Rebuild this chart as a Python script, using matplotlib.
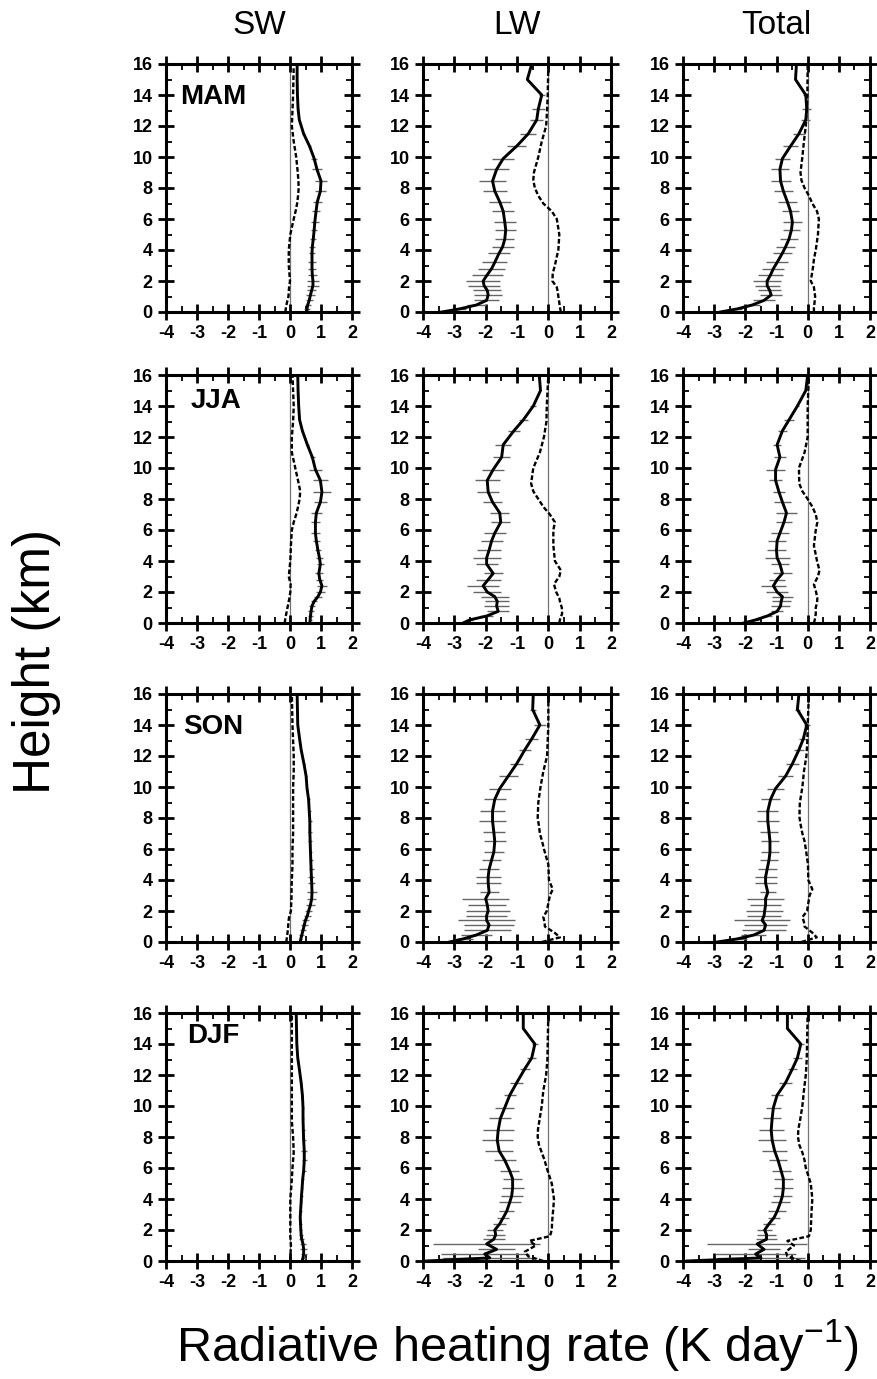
import numpy as np
import matplotlib
matplotlib.use('Agg')
import matplotlib.pyplot as plt
from matplotlib.ticker import MultipleLocator

plt.rcParams['font.family'] = ['Liberation Sans', 'DejaVu Sans']
plt.rcParams['mathtext.fontset'] = 'custom'
plt.rcParams['mathtext.rm'] = 'Liberation Sans'
plt.rcParams['axes.unicode_minus'] = False

seasons = ['MAM', 'JJA', 'SON', 'DJF']
columns = ['SW', 'LW', 'Total']

# heights (km) of the mean profiles / error bars, and of the dashed profiles
height = [0, 0.2, 0.45, 0.75, 1.1, 1.4, 1.7, 2.0, 2.4, 2.8, 3.2, 3.8, 4.2, 4.7, 5.3,
          5.8, 6.5, 7.1, 7.8, 8.45, 9.2, 9.9, 10.7, 11.5, 12.4, 13.1, 14.0, 15.0, 16.0]
height_dash = [0, 0.3, 0.6, 1.0, 1.3, 1.6, 2.0, 2.5, 3.0, 3.4, 4.0, 5.0, 6.0, 6.5,
               7.0, 7.5, 8.0, 8.5, 9.0, 10.0, 11.0, 12.0, 13.0, 14.0, 16.0]

# ---- MAM ----
sw_mam = [0.55, 0.55, 0.57, 0.62, 0.66, 0.7, 0.74, 0.74, 0.72, 0.71, 0.71, 0.71, 0.72, 0.75, 0.78,
          0.8, 0.84, 0.88, 0.98, 1.0, 0.87, 0.78, 0.63, 0.44, 0.3, 0.26, 0.24, 0.23, 0.23]
sw_mam_err = [0, 0.1, 0.1, 0.12, 0.15, 0.15, 0.18, 0.18, 0.15, 0.12, 0.12, 0.1, 0.1, 0.1, 0.1,
              0.12, 0.12, 0.15, 0.18, 0.2, 0.15, 0.1, 0.06, 0.05, 0.03, 0.02, 0, 0, 0]
sw_mam_dash = [-0.15, -0.13, -0.1, -0.05, -0.04, -0.03, 0.0, -0.02, -0.04, -0.04, -0.04, 0.01, 0.12,
               0.18, 0.23, 0.26, 0.28, 0.27, 0.25, 0.2, 0.12, 0.06, 0.08, 0.1, 0.12]

lw_mam = [-3.4, -2.83, -2.3, -1.97, -1.92, -1.95, -2.05, -2.08, -1.95, -1.81, -1.71, -1.57, -1.46, -1.39, -1.36,
          -1.39, -1.44, -1.55, -1.71, -1.78, -1.65, -1.44, -1.01, -0.64, -0.37, -0.32, -0.21, -0.67, -0.53]
lw_mam_err = [0, 0.2, 0.3, 0.4, 0.45, 0.45, 0.5, 0.55, 0.5, 0.42, 0.4, 0.35, 0.35, 0.3, 0.33,
              0.35, 0.35, 0.35, 0.38, 0.43, 0.4, 0.35, 0.3, 0.25, 0.2, 0.2, 0.1, 0, 0]
lw_mam_dash = [0.4, 0.37, 0.35, 0.32, 0.3, 0.27, 0.13, 0.14, 0.21, 0.25, 0.32, 0.35, 0.27, 0.11,
               -0.16, -0.32, -0.43, -0.48, -0.46, -0.32, -0.21, -0.07, -0.04, -0.02, 0.0]

tot_mam = [-2.8, -2.26, -1.78, -1.4, -1.17, -1.22, -1.3, -1.3, -1.19, -1.1, -0.98, -0.81, -0.71, -0.6, -0.52,
           -0.49, -0.55, -0.65, -0.78, -0.87, -0.89, -0.81, -0.55, -0.28, -0.06, -0.03, -0.06, -0.39, -0.36]
tot_mam_err = [0, 0.15, 0.25, 0.35, 0.35, 0.38, 0.4, 0.45, 0.4, 0.35, 0.35, 0.3, 0.3, 0.28, 0.28,
               0.3, 0.28, 0.3, 0.3, 0.32, 0.3, 0.25, 0.25, 0.2, 0.15, 0.15, 0.08, 0, 0]
tot_mam_dash = [0.2, 0.2, 0.22, 0.24, 0.22, 0.2, 0.1, 0.14, 0.18, 0.2, 0.26, 0.33, 0.36, 0.3,
                0.15, 0.04, -0.1, -0.2, -0.23, -0.17, -0.12, -0.06, -0.03, -0.01, 0.0]

# ---- JJA ----
sw_jja = [0.64, 0.65, 0.66, 0.68, 0.71, 0.78, 0.9, 0.98, 1.03, 0.96, 0.93, 0.98, 0.95, 0.9, 0.85,
          0.82, 0.82, 0.85, 0.98, 1.03, 0.98, 0.82, 0.72, 0.56, 0.4, 0.31, 0.28, 0.26, 0.25]
sw_jja_err = [0, 0.05, 0.08, 0.1, 0.1, 0.1, 0.12, 0.15, 0.15, 0.12, 0.12, 0.12, 0.1, 0.1, 0.12,
              0.15, 0.15, 0.18, 0.2, 0.3, 0.25, 0.2, 0.08, 0.05, 0.03, 0.02, 0, 0, 0]
sw_jja_dash = [-0.17, -0.15, -0.12, -0.08, -0.05, -0.02, 0.01, 0.02, -0.04, -0.02, 0.01, 0.03, 0.06,
               0.12, 0.2, 0.26, 0.31, 0.33, 0.28, 0.17, 0.06, 0.06, 0.1, 0.12, 0.08]

lw_jja = [-2.72, -2.51, -1.97, -1.6, -1.65, -1.63, -1.71, -1.95, -2.08, -1.92, -1.76, -1.97, -1.97, -1.89, -1.81,
          -1.71, -1.52, -1.55, -1.78, -1.92, -1.95, -1.76, -1.49, -1.44, -1.1, -0.8, -0.48, -0.25, -0.29]
lw_jja_err = [0, 0.1, 0.2, 0.35, 0.4, 0.38, 0.45, 0.45, 0.5, 0.4, 0.3, 0.35, 0.45, 0.38, 0.35,
              0.35, 0.3, 0.3, 0.3, 0.35, 0.4, 0.35, 0.28, 0.25, 0.2, 0.15, 0.1, 0, 0]
lw_jja_dash = [0.35, 0.38, 0.44, 0.43, 0.38, 0.35, 0.25, 0.18, 0.35, 0.4, 0.21, 0.16, 0.16, 0.21,
               0.05, -0.16, -0.32, -0.48, -0.55, -0.48, -0.27, -0.14, -0.06, -0.05, 0.0]

tot_jja = [-2.05, -1.67, -1.3, -0.98, -0.87, -0.85, -0.81, -0.98, -1.1, -0.98, -0.81, -0.89, -0.98, -1.0, -0.98,
           -0.89, -0.76, -0.68, -0.81, -0.92, -1.03, -1.03, -0.89, -0.98, -0.81, -0.6, -0.33, -0.06, 0.0]
tot_jja_err = [0, 0.1, 0.15, 0.2, 0.3, 0.3, 0.35, 0.35, 0.4, 0.25, 0.3, 0.3, 0.4, 0.3, 0.3,
               0.3, 0.25, 0.35, 0.28, 0.2, 0.2, 0.3, 0.2, 0.12, 0.15, 0.15, 0.05, 0, 0]
tot_jja_dash = [0.2, 0.24, 0.26, 0.26, 0.3, 0.31, 0.27, 0.2, 0.33, 0.38, 0.3, 0.2, 0.26, 0.31,
                0.26, 0.15, 0.0, -0.17, -0.27, -0.28, -0.1, 0.0, 0.0, 0.0, 0.04]

# ---- SON ----
sw_son = [0.33, 0.35, 0.38, 0.42, 0.46, 0.5, 0.56, 0.6, 0.66, 0.7, 0.71, 0.7, 0.69, 0.68, 0.67,
          0.66, 0.65, 0.64, 0.64, 0.62, 0.6, 0.55, 0.52, 0.45, 0.36, 0.31, 0.25, 0.24, 0.23]
sw_son_err = [0, 0.05, 0.08, 0.1, 0.12, 0.12, 0.12, 0.12, 0.15, 0.15, 0.15, 0.12, 0.1, 0.08, 0.07,
              0.06, 0.06, 0.06, 0.06, 0.05, 0.05, 0.04, 0.03, 0.02, 0, 0, 0, 0, 0]
sw_son_dash = [-0.12, -0.1, -0.08, -0.06, -0.05, -0.03, 0.03, 0.04, 0.05, 0.05, 0.06, 0.08, 0.08,
               0.09, 0.1, 0.1, 0.1, 0.1, 0.1, 0.1, 0.12, 0.12, 0.1, 0.08, 0.06]

lw_son = [-3.15, -2.72, -2.3, -1.95, -1.89, -1.97, -1.97, -1.92, -1.95, -2.0, -1.89, -1.92, -1.92, -1.89, -1.81,
          -1.74, -1.71, -1.74, -1.78, -1.78, -1.71, -1.55, -1.28, -1.01, -0.75, -0.53, -0.27, -0.5, -0.48]
lw_son_err = [0, 0.3, 0.5, 0.75, 0.8, 0.9, 0.65, 0.7, 0.6, 0.75, 0.3, 0.4, 0.4, 0.32, 0.3,
              0.32, 0.35, 0.35, 0.42, 0.4, 0.35, 0.35, 0.3, 0.2, 0.2, 0.2, 0.2, 0.1, 0]
lw_son_dash = [-0.2, 0.37, 0.2, -0.11, -0.12, -0.16, -0.05, 0.0, 0.05, 0.14, 0.02, 0.0, -0.14, -0.2,
               -0.27, -0.3, -0.34, -0.33, -0.32, -0.25, -0.16, -0.04, -0.02, 0.0, 0.0]

tot_son = [-2.9, -2.26, -1.73, -1.4, -1.35, -1.46, -1.4, -1.38, -1.35, -1.35, -1.28, -1.35, -1.35, -1.3, -1.24,
           -1.21, -1.21, -1.24, -1.28, -1.28, -1.19, -1.03, -0.71, -0.49, -0.28, -0.14, -0.03, -0.33, -0.28]
tot_son_err = [0, 0.3, 0.4, 0.7, 0.7, 0.9, 0.55, 0.6, 0.5, 0.6, 0.25, 0.35, 0.35, 0.3, 0.28,
               0.28, 0.3, 0.3, 0.35, 0.33, 0.3, 0.28, 0.25, 0.2, 0.15, 0.15, 0.1, 0.08, 0]
tot_son_dash = [-0.2, 0.29, 0.15, -0.1, -0.12, -0.17, -0.02, 0.02, 0.06, 0.15, 0.02, 0.01, -0.06, -0.1,
                -0.17, -0.22, -0.26, -0.26, -0.25, -0.17, -0.12, -0.04, -0.01, 0.0, 0.04]

# ---- DJF ----
sw_djf = [0.39, 0.42, 0.44, 0.44, 0.42, 0.38, 0.36, 0.35, 0.34, 0.33, 0.34, 0.36, 0.37, 0.39, 0.41,
          0.44, 0.46, 0.46, 0.44, 0.43, 0.42, 0.42, 0.4, 0.36, 0.3, 0.25, 0.22, 0.21, 0.2]
sw_djf_err = [0, 0.08, 0.1, 0.12, 0.1, 0.08, 0.06, 0.05, 0.04, 0.04, 0.04, 0.04, 0.04, 0.04, 0.05,
              0.06, 0.08, 0.1, 0.06, 0.05, 0.04, 0.04, 0.03, 0.02, 0, 0, 0, 0, 0]
sw_djf_dash = [0.01, 0.02, 0.02, 0.03, 0.02, 0.01, 0.01, 0.01, 0.01, 0.01, 0.01, 0.05, 0.08,
               0.1, 0.12, 0.11, 0.1, 0.08, 0.06, 0.06, 0.06, 0.06, 0.06, 0.06, 0.06]

lw_djf = [-3.9, -1.87, -2.03, -1.65, -1.97, -1.74, -1.68, -1.71, -1.55, -1.44, -1.33, -1.23, -1.17, -1.14, -1.14,
          -1.23, -1.39, -1.57, -1.63, -1.6, -1.53, -1.39, -1.23, -1.01, -0.75, -0.53, -0.43, -0.8, -0.8]
lw_djf_err = [0, 1.5, 1.4, 0.6, 1.7, 0.35, 0.3, 0.25, 0.2, 0.2, 0.25, 0.35, 0.35, 0.35, 0.3,
              0.3, 0.35, 0.45, 0.5, 0.5, 0.35, 0.3, 0.2, 0.2, 0.15, 0.15, 0.1, 0, 0]
lw_djf_dash = [-0.16, -0.64, -0.75, -0.4, -0.6, 0.05, 0.11, 0.12, 0.14, 0.16, 0.18, 0.11, -0.05, -0.12,
               -0.21, -0.3, -0.34, -0.33, -0.29, -0.21, -0.16, -0.07, -0.03, -0.02, 0.0]

tot_djf = [-3.87, -1.5, -1.67, -1.4, -1.62, -1.32, -1.32, -1.38, -1.24, -1.08, -0.98, -0.87, -0.81, -0.78, -0.78,
           -0.85, -0.95, -1.06, -1.14, -1.17, -1.14, -1.1, -0.98, -0.71, -0.49, -0.33, -0.22, -0.65, -0.65]
tot_djf_err = [0, 1.4, 1.3, 0.5, 1.6, 0.35, 0.3, 0.25, 0.2, 0.2, 0.3, 0.3, 0.3, 0.3, 0.3,
               0.3, 0.3, 0.4, 0.45, 0.4, 0.3, 0.25, 0.2, 0.2, 0.15, 0.15, 0.1, 0, 0]
tot_djf_dash = [-0.22, -0.65, -0.7, -0.44, -0.65, 0.04, 0.1, 0.11, 0.12, 0.13, 0.15, 0.1, -0.06, -0.1,
                -0.17, -0.27, -0.31, -0.3, -0.25, -0.17, -0.12, -0.06, -0.03, -0.02, 0.0]

panels = [
    [(sw_mam, sw_mam_err, sw_mam_dash), (lw_mam, lw_mam_err, lw_mam_dash), (tot_mam, tot_mam_err, tot_mam_dash)],
    [(sw_jja, sw_jja_err, sw_jja_dash), (lw_jja, lw_jja_err, lw_jja_dash), (tot_jja, tot_jja_err, tot_jja_dash)],
    [(sw_son, sw_son_err, sw_son_dash), (lw_son, lw_son_err, lw_son_dash), (tot_son, tot_son_err, tot_son_dash)],
    [(sw_djf, sw_djf_err, sw_djf_dash), (lw_djf, lw_djf_err, lw_djf_dash), (tot_djf, tot_djf_err, tot_djf_dash)],
]

W, H = 878, 1379
fig = plt.figure(figsize=(W / 100, H / 100), dpi=100)

# panel placement in pixels
col_left = [166, 423, 683]
col_width = [186, 188, 187]
row_top = [64, 375, 694, 1013]
row_height = 248
label_pos = [(-3.55, 13.9), (-3.22, 14.3), (-3.44, 13.9), (-3.33, 14.5)]

for i, season in enumerate(seasons):
    for j, col in enumerate(columns):
        x, err, dash = [np.array(a) for a in panels[i][j]]
        z = np.array(height)
        ax = fig.add_axes([col_left[j] / W, 1 - (row_top[i] + row_height) / H,
                           col_width[j] / W, row_height / H])
        ax.axvline(0, color='0.45', lw=0.9, zorder=1)
        m = err > 0
        ax.hlines(z[m], x[m] - err[m], x[m] + err[m], color='0.4', lw=1.0, zorder=2)
        ax.plot(dash, height_dash, color='black', lw=1.7, ls=(0, (2.0, 1.0)), zorder=3)
        ax.plot(x, z, color='black', lw=2.1, zorder=4)

        ax.set_xlim(-4, 2)
        ax.set_ylim(0, 16)
        ax.xaxis.set_major_locator(MultipleLocator(1))
        ax.xaxis.set_minor_locator(MultipleLocator(0.5))
        ax.yaxis.set_major_locator(MultipleLocator(2))
        ax.yaxis.set_minor_locator(MultipleLocator(1))
        ax.tick_params(which='major', direction='inout', length=11, width=2,
                       top=True, right=True, labelsize=13, pad=4)
        ax.tick_params(which='minor', direction='in', length=4, width=1.3,
                       top=True, right=True)
        for lab in ax.get_xticklabels() + ax.get_yticklabels():
            lab.set_fontweight('bold')
        for s in ax.spines.values():
            s.set_linewidth(2.2)
        if j == 0:
            ax.text(label_pos[i][0], label_pos[i][1], season, fontsize=20,
                    fontweight='bold', va='center', ha='left')

for j, col in enumerate(columns):
    fig.text((col_left[j] + col_width[j] / 2) / W, 1 - 25 / H, col,
             fontsize=24, ha='center', va='center')

fig.text(37 / W, 1 - 662 / H, 'Height (km)', rotation=90, fontsize=37,
         ha='center', va='center')
fig.text(517 / W, 1 - 1345 / H, r'Radiative heating rate (K day$^{-1}$)',
         fontsize=35, ha='center', va='center')

fig.savefig('out.png', dpi=100)
